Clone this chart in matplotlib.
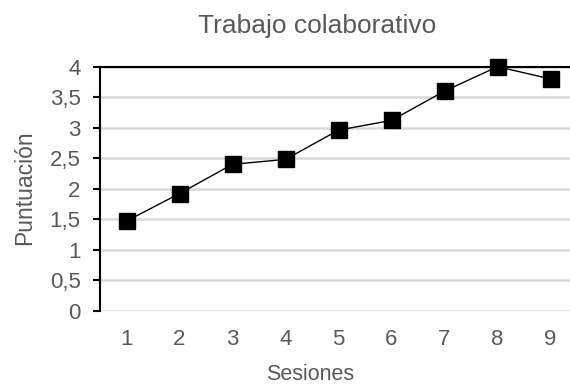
import matplotlib.pyplot as plt

# Puntuación media por sesión
sesiones = [1, 2, 3, 4, 5, 6, 7, 8, 9]
puntuacion = [1.47, 1.92, 2.40, 2.48, 2.96, 3.12, 3.60, 4.00, 3.80]
yticks = [0, 0.5, 1, 1.5, 2, 2.5, 3, 3.5, 4]
ytick_labels = ['0', '0,5', '1', '1,5', '2', '2,5', '3', '3,5', '4']

plt.rcParams['font.family'] = ['Liberation Sans', 'DejaVu Sans']
gris = '#595959'
W, H = 570, 386

fig = plt.figure(figsize=(W / 100, H / 100), dpi=100)
ax = fig.add_axes([100 / W, (H - 310.7) / H, 477 / W, 244 / H])

ax.set_xlim(0.5, 9.5)
ax.set_ylim(0, 4)
ax.set_yticks(yticks)
ax.set_yticklabels(ytick_labels)
ax.set_xticks(sesiones)
ax.grid(axis='y', color='#d9d9d9', linewidth=1.8, zorder=0)

ax.plot(sesiones, puntuacion, color='black', linewidth=1, marker='s',
        markersize=11, markerfacecolor='black', markeredgecolor='black',
        clip_on=False, zorder=3)

for s in ['right', 'bottom']:
    ax.spines[s].set_visible(False)
ax.spines['left'].set_linewidth(1.5)
ax.spines['top'].set_linewidth(1.5)
ax.tick_params(axis='y', length=5, width=1.5, colors='black',
               labelcolor=gris, labelsize=16, pad=9)
ax.tick_params(axis='x', length=0, labelcolor=gris, labelsize=16, pad=13)

# titulo y etiquetas de ejes
fig.text(317 / W, 1 - 26 / H, 'Trabajo colaborativo', color=gris,
         fontsize=19, ha='center', va='center')
fig.text(310 / W, 1 - 375 / H, 'Sesiones', color=gris,
         fontsize=15.5, ha='center', va='center')
fig.text(25 / W, 1 - 188 / H, 'Puntuación', color=gris,
         fontsize=16.5, ha='center', va='center', rotation=90)

fig.savefig('out.png', dpi=100)
